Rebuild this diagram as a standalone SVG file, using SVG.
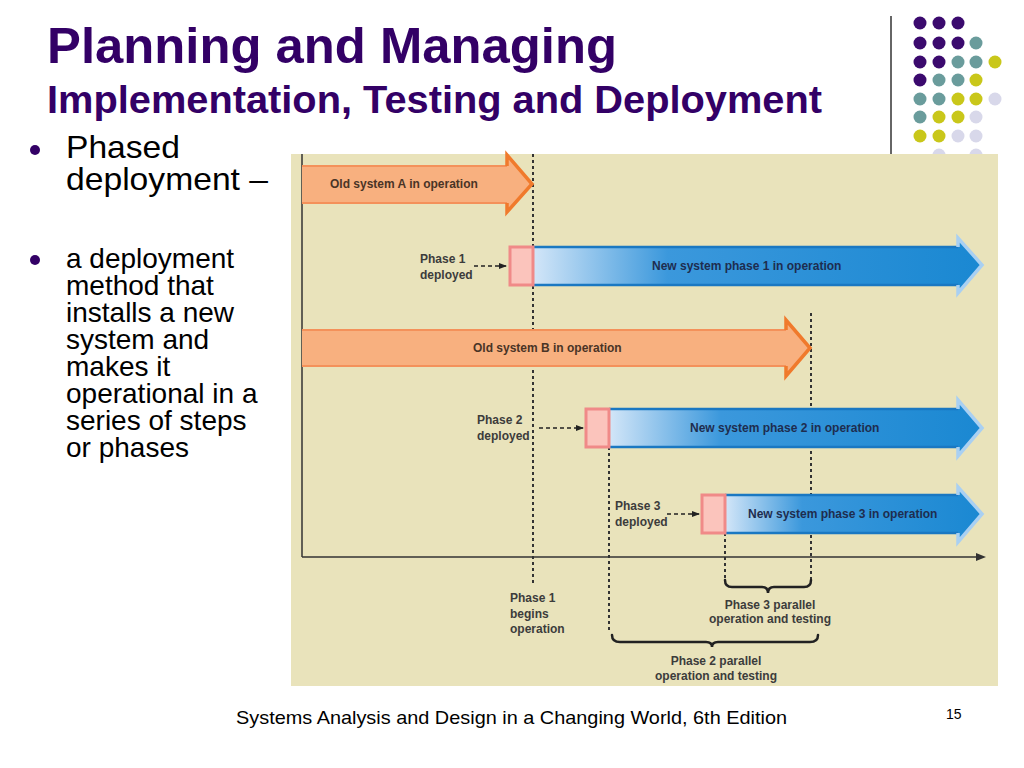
<svg xmlns="http://www.w3.org/2000/svg" width="1024" height="768" viewBox="0 0 1024 768">
<style>
.title{font-family:"Liberation Sans",Arial,sans-serif;font-weight:bold;fill:#330066}
.body{font-family:"Liberation Sans",Arial,sans-serif;fill:#000}
.lbl{font-family:"Liberation Sans",Arial,sans-serif;font-weight:bold;font-size:12px;fill:#3c3c3c}
.otxt{font-family:"Liberation Sans",Arial,sans-serif;font-weight:bold;font-size:12px;fill:#4a3426}
.btxt{font-family:"Liberation Sans",Arial,sans-serif;font-weight:bold;font-size:12px;fill:#1e2d4f}
.dot-p{fill:#3b0a6e}.dot-t{fill:#6a9c9c}.dot-y{fill:#c9c71a}.dot-l{fill:#d8d8ea}
.dotted{stroke:#333;stroke-width:2;stroke-dasharray:3 3;fill:none}
.dash{stroke:#222;stroke-width:1.5;stroke-dasharray:4 3;fill:none}
.ofill{fill:#f8b07f}
.oedge{stroke:#f4915a;stroke-width:2;fill:none}
.ohead{stroke:#f07a2c;stroke-width:3.5;fill:none;stroke-linejoin:miter}
.bedge{stroke:#1a78c2;stroke-width:2.5;fill:none}
.bhead{stroke:#a9d0f2;stroke-width:3.5;fill:none}
.pink{fill:#fbc4bc;stroke:#f08a88;stroke-width:3}
.brace{stroke:#222;stroke-width:2.5;fill:none;stroke-linecap:round}
</style>
<defs>
<linearGradient id="bg" x1="0" y1="0" x2="1" y2="0">
<stop offset="0" stop-color="#d3e6f8"/>
<stop offset="0.3" stop-color="#3b98dc"/>
<stop offset="1" stop-color="#1a88d2"/>
</linearGradient>
<marker id="ah" markerWidth="8" markerHeight="6" refX="7" refY="3" orient="auto" markerUnits="userSpaceOnUse">
<path d="M0,0 L8,3 L0,6 Z" fill="#222"/>
</marker>
</defs>
<rect width="1024" height="768" fill="#fff"/>

<g id="decor">
<line x1="891" y1="16" x2="891" y2="155" stroke="#333" stroke-width="1.5"/>
<circle class="dot-p" cx="920" cy="23" r="6.5"/><circle class="dot-p" cx="939" cy="23" r="6.5"/><circle class="dot-p" cx="958" cy="23" r="6.5"/>
<circle class="dot-p" cx="920" cy="43" r="6.5"/><circle class="dot-p" cx="939" cy="43" r="6.5"/><circle class="dot-p" cx="958" cy="43" r="6.5"/><circle class="dot-t" cx="976" cy="43" r="6.5"/>
<circle class="dot-p" cx="920" cy="62" r="6.5"/><circle class="dot-p" cx="939" cy="62" r="6.5"/><circle class="dot-t" cx="958" cy="62" r="6.5"/><circle class="dot-t" cx="976" cy="62" r="6.5"/><circle class="dot-y" cx="995" cy="62" r="6.5"/>
<circle class="dot-p" cx="920" cy="80" r="6.5"/><circle class="dot-t" cx="939" cy="80" r="6.5"/><circle class="dot-t" cx="958" cy="80" r="6.5"/><circle class="dot-y" cx="976" cy="80" r="6.5"/>
<circle class="dot-t" cx="920" cy="99" r="6.5"/><circle class="dot-t" cx="939" cy="99" r="6.5"/><circle class="dot-y" cx="958" cy="99" r="6.5"/><circle class="dot-y" cx="976" cy="99" r="6.5"/><circle class="dot-l" cx="995" cy="99" r="6.5"/>
<circle class="dot-t" cx="920" cy="117" r="6.5"/><circle class="dot-y" cx="939" cy="117" r="6.5"/><circle class="dot-y" cx="958" cy="117" r="6.5"/><circle class="dot-l" cx="976" cy="117" r="6.5"/>
<circle class="dot-y" cx="920" cy="136" r="6.5"/><circle class="dot-y" cx="939" cy="136" r="6.5"/><circle class="dot-l" cx="958" cy="136" r="6.5"/><circle class="dot-l" cx="976" cy="136" r="6.5"/>
<circle class="dot-l" cx="939" cy="155" r="6.5"/><circle class="dot-l" cx="976" cy="155" r="6.5"/>
</g>

<g id="titles">
<text class="title" x="47" y="63" font-size="50" textLength="570" lengthAdjust="spacingAndGlyphs">Planning and Managing</text>
<text class="title" x="47" y="113" font-size="38" textLength="775" lengthAdjust="spacingAndGlyphs">Implementation, Testing and Deployment</text>
</g>

<g id="bullets">
<circle cx="35" cy="150" r="5" fill="#330066"/>
<text class="body" x="66" y="158" font-size="32" textLength="114" lengthAdjust="spacingAndGlyphs">Phased</text>
<text class="body" x="66" y="190" font-size="32" textLength="202" lengthAdjust="spacingAndGlyphs">deployment –</text>
<circle cx="35" cy="260" r="5" fill="#330066"/>
<text class="body" font-size="28">
<tspan x="66" y="268">a deployment</tspan>
<tspan x="66" y="295">method that</tspan>
<tspan x="66" y="322">installs a new</tspan>
<tspan x="66" y="349">system and</tspan>
<tspan x="66" y="376">makes it</tspan>
<tspan x="66" y="403">operational in a</tspan>
<tspan x="66" y="430">series of steps</tspan>
<tspan x="66" y="457">or phases</tspan>
</text>
</g>

<rect id="panel" x="291" y="154" width="707" height="532" fill="#e9e3bb"/>

<g id="connectors">
<line x1="302" y1="154" x2="302" y2="557" stroke="#333" stroke-width="1.5"/>
<line x1="302" y1="557" x2="978" y2="557" stroke="#333" stroke-width="1.5"/>
<path d="M976,553 L986,557 L976,561 Z" fill="#333"/>
<line class="dotted" x1="533" y1="154" x2="533" y2="586"/>
<line class="dotted" x1="811" y1="313" x2="811" y2="581"/>
<line class="dotted" x1="609" y1="447" x2="609" y2="632"/>
<line class="dotted" x1="725" y1="533" x2="725" y2="581"/>
<line class="dash" x1="474" y1="266" x2="506" y2="266" marker-end="url(#ah)"/>
<line class="dash" x1="539" y1="428" x2="583" y2="428" marker-end="url(#ah)"/>
<line class="dash" x1="667" y1="514" x2="699" y2="514" marker-end="url(#ah)"/>
<path class="brace" d="M725,580 Q725,587 732,587 L762,587 Q768,587 768,593 Q768,587 774,587 L804,587 Q811,587 811,580"/>
<path class="brace" d="M612,635 Q612,642 620,642 L706,642 Q712,642 712,647 Q712,642 718,642 L810,642 Q818,642 818,635"/>
</g>

<g id="oldA">
<path class="ofill" d="M302,166 L507,166 L507,155 L532,184 L507,212 L507,203 L302,203 Z"/>
<line class="oedge" x1="302" y1="166" x2="507" y2="166"/><line class="oedge" x1="302" y1="203" x2="507" y2="203"/>
<polyline class="ohead" points="507,166 507,155 532,184 507,212 507,203"/>
<text class="otxt" x="330" y="188">Old system A  in operation</text>
</g>

<g id="phase1">
<path fill="url(#bg)" d="M533,247 L958,247 L958,238 L982,265 L958,293 L958,285 L533,285 Z"/>
<line class="bedge" x1="533" y1="247" x2="958" y2="247"/><line class="bedge" x1="533" y1="285" x2="958" y2="285"/>
<polyline class="bhead" points="958,247 958,238 982,265 958,293 958,285"/>
<rect class="pink" x="510" y="247" width="23" height="38"/>
<text class="btxt" x="652" y="270">New system phase 1 in operation</text>
<text class="lbl"><tspan x="420" y="263">Phase 1</tspan><tspan x="420" y="279">deployed</tspan></text>
</g>

<g id="oldB">
<path class="ofill" d="M302,330 L786,330 L786,320 L810,348 L786,376 L786,366 L302,366 Z"/>
<line class="oedge" x1="302" y1="330" x2="786" y2="330"/><line class="oedge" x1="302" y1="366" x2="786" y2="366"/>
<polyline class="ohead" points="786,330 786,320 810,348 786,376 786,366"/>
<text class="otxt" x="473" y="352">Old system B in operation</text>
</g>

<g id="phase2">
<path fill="url(#bg)" d="M609,409 L958,409 L958,400 L982,428 L958,456 L958,447 L609,447 Z"/>
<line class="bedge" x1="609" y1="409" x2="958" y2="409"/><line class="bedge" x1="609" y1="447" x2="958" y2="447"/>
<polyline class="bhead" points="958,409 958,400 982,428 958,456 958,447"/>
<rect class="pink" x="586" y="409" width="23" height="38"/>
<text class="btxt" x="690" y="432">New system phase 2 in operation</text>
<text class="lbl"><tspan x="477" y="424">Phase 2</tspan><tspan x="477" y="440">deployed</tspan></text>
</g>

<g id="phase3">
<path fill="url(#bg)" d="M725,495 L958,495 L958,487 L982,514 L958,542 L958,533 L725,533 Z"/>
<line class="bedge" x1="725" y1="495" x2="958" y2="495"/><line class="bedge" x1="725" y1="533" x2="958" y2="533"/>
<polyline class="bhead" points="958,495 958,487 982,514 958,542 958,533"/>
<rect class="pink" x="702" y="495" width="23" height="38"/>
<text class="btxt" x="748" y="518">New system phase 3 in operation</text>
<text class="lbl"><tspan x="615" y="510">Phase 3</tspan><tspan x="615" y="526">deployed</tspan></text>
</g>

<g id="timeline-labels">
<text class="lbl"><tspan x="510" y="602">Phase 1</tspan><tspan x="510" y="618">begins</tspan><tspan x="510" y="633">operation</tspan></text>
<text class="lbl" text-anchor="middle"><tspan x="770" y="609">Phase 3 parallel</tspan><tspan x="770" y="623">operation and testing</tspan></text>
<text class="lbl" text-anchor="middle"><tspan x="716" y="665">Phase 2 parallel</tspan><tspan x="716" y="680">operation and testing</tspan></text>
</g>

<g id="footer">
<text class="body" x="236" y="724" font-size="19" textLength="551" lengthAdjust="spacingAndGlyphs">Systems Analysis and Design in a Changing World, 6th Edition</text>
<text class="body" x="946" y="719" font-size="14">15</text>
</g>
</svg>
